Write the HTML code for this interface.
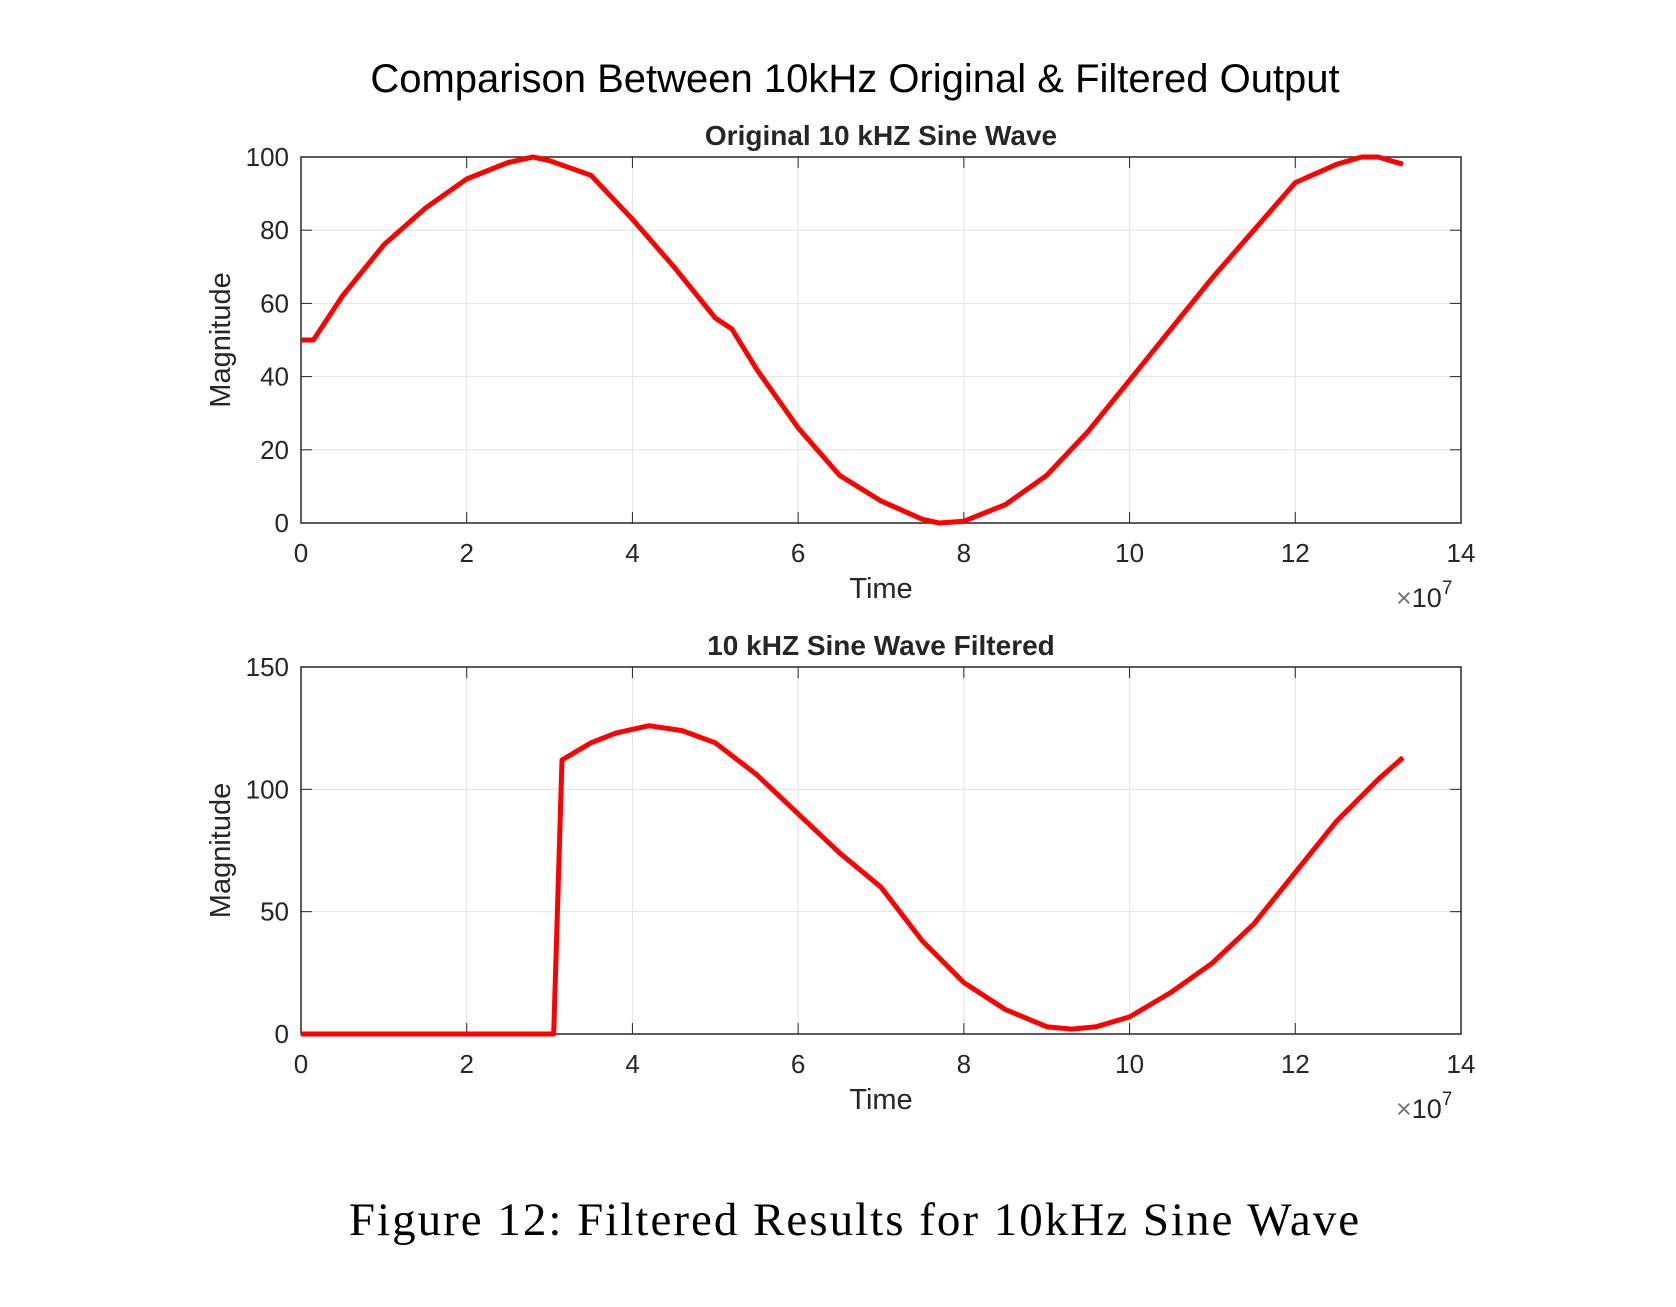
<!DOCTYPE html>
<html><head><meta charset="utf-8"><style>
body{margin:0;background:#fff}
svg text{font-family:"Liberation Sans",sans-serif;fill:#262626}
</style></head><body>
<svg id="fig" width="1676" height="1302" xmlns="http://www.w3.org/2000/svg">
<text x="855" y="92" font-size="40" text-anchor="middle" style="fill:#000">Comparison Between 10kHz Original &amp; Filtered Output</text>
<text x="855" y="1235" font-size="47" text-anchor="middle" letter-spacing="2" style="font-family:'Liberation Serif',serif;fill:#000">Figure 12: Filtered Results for 10kHz Sine Wave</text>
</svg>
<script>
const xTicks=[0,2,4,6,8,10,12,14];
const topYTicks=[0,20,40,60,80,100];
const botYTicks=[0,50,100,150];
const topX=[0,0.15,0.5,1,1.5,2,2.5,2.8,3,3.5,4,4.5,5,5.2,5.5,6,6.5,7,7.5,7.7,8,8.5,9,9.5,10,10.5,11,11.5,12,12.5,12.8,13,13.3];
const topY=[50,50,62,76,86,94,98.5,100,99,95,83,70,56,53,42,26,13,6,1,0,0.5,5,13,25,39,53,67,80,93,98,100,100,98];
const botX=[0,1,2,3.05,3.15,3.5,3.8,4.2,4.6,5,5.5,6,6.5,7,7.5,8,8.5,9,9.3,9.6,10,10.5,11,11.5,12,12.5,13,13.3];
const botY=[0,0,0,0,112,119,123,126,124,119,106,90,74,60,38,21,10,3,2,3,7,17,29,45,66,87,104,113];
const svg=document.getElementById('fig');
const NS='http://www.w3.org/2000/svg';
function mk(t,a){const e=document.createElementNS(NS,t);for(const k in a)e.setAttribute(k,a[k]);svg.appendChild(e);return e;}
function panel(p,ymax,yt,xs,ys,title,pfx){
 const L=301,R=1461,T=p.top,B=p.bot;
 const sx=v=>L+(R-L)*v/14, sy=v=>B-(B-T)*v/ymax;
 for(const v of xTicks){const g=mk('line',{x1:sx(v),x2:sx(v),y1:T,y2:B,stroke:'#e3e3e3','stroke-width':1});
  
  const t=mk('text',{x:sx(v),y:B+39,'font-size':26,'text-anchor':'middle'});t.textContent=v;
  
  mk('line',{x1:sx(v),x2:sx(v),y1:B,y2:B-11,stroke:'#262626'});mk('line',{x1:sx(v),x2:sx(v),y1:T,y2:T+11,stroke:'#262626'});}
 for(const v of yt){const g=mk('line',{x1:L,x2:R,y1:sy(v),y2:sy(v),stroke:'#e3e3e3','stroke-width':1});
  
  const t=mk('text',{x:L-12,y:sy(v)+9,'font-size':26,'text-anchor':'end'});t.textContent=v;
  
  mk('line',{x1:L,x2:L+11,y1:sy(v),y2:sy(v),stroke:'#262626'});mk('line',{x1:R,x2:R-11,y1:sy(v),y2:sy(v),stroke:'#262626'});}
 const box=mk('rect',{x:L,y:T,width:R-L,height:B-T,fill:'none',stroke:'#262626','stroke-width':1.5});
 
 const pts=xs.map((x,i)=>sx(x).toFixed(1)+','+sy(ys[i]).toFixed(1)).join(' ');
 const l=mk('polyline',{points:pts,fill:'none',stroke:'#ff0000','stroke-width':5,'stroke-linejoin':'round'});
 
 const tt=mk('text',{x:(L+R)/2,y:T-12,'font-size':28,'font-weight':'bold','text-anchor':'middle',fill:'#000'});tt.textContent=title;
 
 const xl=mk('text',{x:(L+R)/2,y:B+75,'font-size':29,'text-anchor':'middle'});xl.textContent='Time';
 
 const yl=mk('text',{x:0,y:0,'font-size':29,'text-anchor':'middle',transform:`translate(230,${(T+B)/2}) rotate(-90)`});yl.textContent='Magnitude';
 
 const ex=mk('text',{x:1396,y:B+84,'font-size':27});ex.innerHTML='<tspan fill="#777">×</tspan>10<tspan dy="-13" font-size="19">7</tspan>';
 
}
panel({top:157,bot:523},100,topYTicks,topX,topY,'Original 10 kHZ Sine Wave','top');
panel({top:667,bot:1034},150,botYTicks,botX,botY,'10 kHZ Sine Wave Filtered','bottom');
</script>
</body></html>
